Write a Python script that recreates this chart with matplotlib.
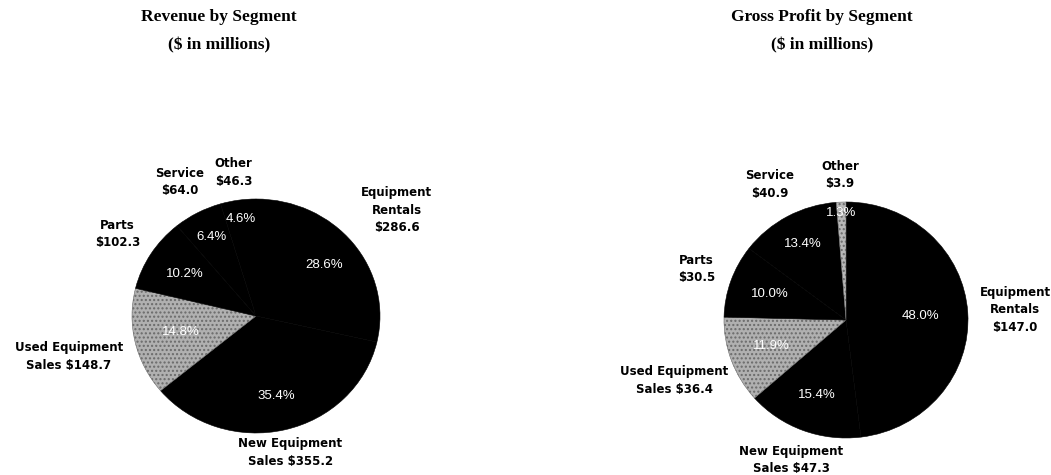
import numpy as np
import matplotlib
matplotlib.use("Agg")
import matplotlib.pyplot as plt

# segment order, clockwise from 12 o'clock
segments = ["Equipment Rentals", "New Equipment Sales", "Used Equipment Sales",
            "Parts", "Service", "Other"]
revenue = [286.6, 355.2, 148.7, 102.3, 64.0, 46.3]
gross_profit = [147.0, 47.3, 36.4, 30.5, 40.9, 3.9]

# shares as printed on the chart
rev_pct = [28.6, 35.4, 14.8, 10.2, 6.4, 4.6]
gp_pct = [48.0, 15.4, 11.9, 10.0, 13.4, 1.3]

rev_labels = ["Equipment\nRentals\n$286.6", "New Equipment\nSales $355.2",
              "Used Equipment\nSales $148.7", "Parts\n$102.3",
              "Service\n$64.0", "Other\n$46.3"]
gp_labels = ["Equipment\nRentals\n$147.0", "New Equipment\nSales $47.3",
             "Used Equipment\nSales $36.4", "Parts\n$30.5",
             "Service\n$40.9", "Other\n$3.9"]

W, H = 1051, 475
fig = plt.figure(figsize=(W / 100, H / 100), dpi=100)
fig.patch.set_facecolor("white")


def draw_pie(values, pcts, labels, colors, center_px, scale_px, title,
             label_dist, pct_dist, title_x):
    cx, cy = center_px
    sx, sy = scale_px
    xl, yl = 2.2, 1.35
    left = (cx - xl * sx) / W
    bottom = (H - cy - yl * sy) / H
    ax = fig.add_axes([left, bottom, 2 * xl * sx / W, 2 * yl * sy / H])
    wedges, _ = ax.pie(values, startangle=90, counterclock=False,
                       colors=colors,
                       wedgeprops=dict(edgecolor="black", linewidth=0.4))
    for w, c in zip(wedges, colors):
        if c != "black":
            w.set_hatch("....")
            w.set_edgecolor("#6a6a6a")
    ax.set_aspect("auto")
    ax.set_xlim(-xl, xl)
    ax.set_ylim(-yl, yl)
    ax.axis("off")

    for w, lab, p, ld, pd in zip(wedges, labels, pcts, label_dist, pct_dist):
        mid = np.deg2rad((w.theta1 + w.theta2) / 2)
        ax.text(ld * np.cos(mid), ld * np.sin(mid), lab, ha="center",
                va="center", fontsize=8.5, fontweight="bold",
                family="DejaVu Sans", linespacing=1.45)
        ax.text(pd * np.cos(mid), pd * np.sin(mid), f"{p:.1f}%",
                ha="center", va="center", fontsize=9.5, color="white",
                family="Liberation Sans")

    fig.text(title_x / W, 1 - 17 / H, title, ha="center", va="center",
             fontsize=12.5, fontweight="bold", family="Liberation Serif")
    fig.text(title_x / W, 1 - 45 / H, "($ in millions)", ha="center",
             va="center", fontsize=12.5, fontweight="bold",
             family="Liberation Serif")


rev_colors = ["black", "black", "#b0b0b0", "black", "black", "black"]
gp_colors = ["black", "black", "#b0b0b0", "black", "black", "#b8b8b8"]

draw_pie(revenue, rev_pct, rev_labels, rev_colors, (256, 316), (124, 117),
         "Revenue by Segment",
         label_dist=[1.45, 1.2, 1.55, 1.32, 1.3, 1.24],
         pct_dist=[0.7, 0.7, 0.62, 0.68, 0.77, 0.84], title_x=219)

draw_pie(gross_profit, gp_pct, gp_labels, gp_colors, (846, 320), (122, 118),
         "Gross Profit by Segment",
         label_dist=[1.39, 1.27, 1.5, 1.3, 1.31, 1.23],
         pct_dist=[0.61, 0.68, 0.65, 0.66, 0.73, 0.91], title_x=822)

fig.savefig("out.png", dpi=100, facecolor="white")
